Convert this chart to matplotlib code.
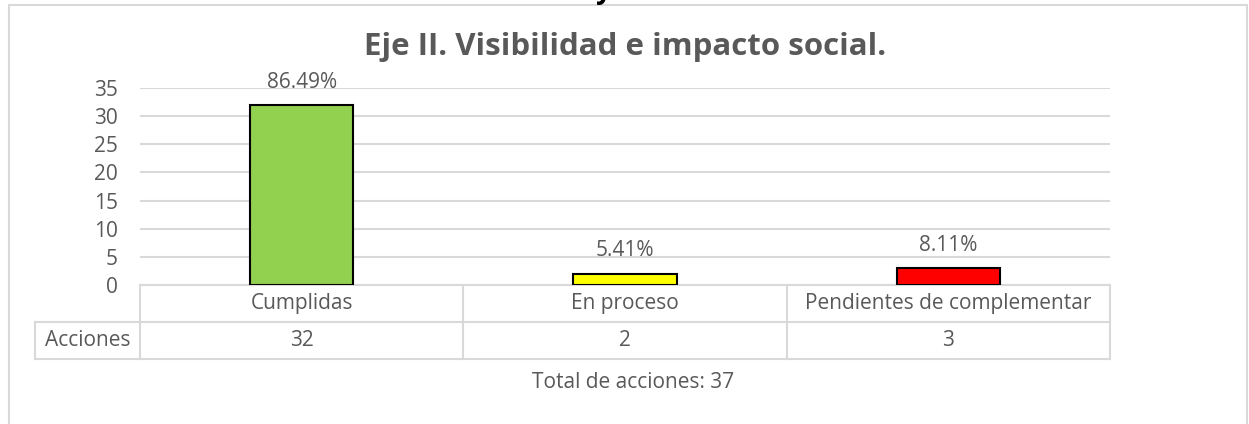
import matplotlib.pyplot as plt
from matplotlib.patches import Rectangle
from matplotlib.transforms import blended_transform_factory

categorias = ['Cumplidas', 'En proceso', 'Pendientes de complementar']
acciones = [32, 2, 3]
porcentajes = ['86.49%', '5.41%', '8.11%']
colores = ['#92D050', '#FFFF00', '#FF0000']
total = 37

gris = '#595959'
gris_claro = '#D9D9D9'
fs = 15
plt.rcParams['font.family'] = ['Open Sans', 'DejaVu Sans']

W, H = 1249, 424
fig = plt.figure(figsize=(W / 100, H / 100), dpi=100)

# borde del grafico
fig.patches.append(Rectangle((9 / W, -0.05), (1247 - 9) / W, 1.05 - 5 / H,
                             transform=fig.transFigure, fill=False,
                             edgecolor=gris_claro, linewidth=1.5))
# resto del titulo de arriba, cortado
fig.text(604 / W, 1 + 1.5 / H, 'y', ha='center', va='baseline',
         fontsize=20, fontweight='bold', color='black')

ax = fig.add_axes([140 / W, (H - 285) / H, 970 / W, 197 / H])
x = range(len(categorias))
bars = ax.bar(x, acciones, width=0.32, color=colores, edgecolor='black',
              linewidth=1.5, zorder=3)
for b, p in zip(bars, porcentajes):
    ax.text(b.get_x() + b.get_width() / 2, b.get_height() + 2.2, p,
            ha='center', va='bottom', fontsize=fs, color=gris)

ax.set_xlim(-0.5, 2.5)
ax.set_ylim(0, 35)
ax.set_yticks(range(0, 36, 5))
ax.tick_params(axis='y', length=0, labelsize=fs, labelcolor=gris, pad=16)
ax.set_xticks([])
ax.grid(axis='y', color=gris_claro, linewidth=1.5, zorder=0)
for s in ax.spines.values():
    s.set_visible(False)

ax.set_title('Eje II. Visibilidad e impacto social.', fontsize=22.5,
             fontweight='bold', color=gris, pad=24)

# tabla de datos, dibujada a mano bajo el eje
tr = blended_transform_factory(ax.transData, ax.transAxes)
fila = 37 / 197
izq = -0.5 - 105 / 323
kw = dict(color=gris_claro, linewidth=1.5, transform=tr, clip_on=False)
ax.plot([-0.5, 2.5], [0, 0], **kw)
ax.plot([izq, 2.5], [-fila, -fila], **kw)
ax.plot([izq, 2.5], [-2 * fila, -2 * fila], **kw)
ax.plot([izq, izq], [-fila, -2 * fila], **kw)
for xb in [-0.5, 0.5, 1.5, 2.5]:
    ax.plot([xb, xb], [0, -2 * fila], **kw)

for i, (cat, v) in enumerate(zip(categorias, acciones)):
    ax.text(i, -fila / 2, cat, ha='center', va='center', fontsize=fs,
            color=gris, transform=tr)
    ax.text(i, -1.5 * fila, str(v), ha='center', va='center', fontsize=fs,
            color=gris, transform=tr)
ax.text((izq - 0.5) / 2, -1.5 * fila, 'Acciones', ha='center', va='center',
        fontsize=fs, color=gris, transform=tr)

fig.text(633 / W, 1 - 383 / H, f'Total de acciones: {total}', ha='center',
         va='center', fontsize=fs, color=gris)

fig.savefig('out.png', dpi=100)
